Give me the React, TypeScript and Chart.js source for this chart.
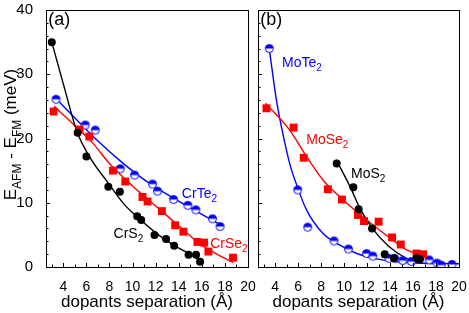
import React, { useEffect, useRef } from "react";
import { Chart, registerables } from "chart.js";

Chart.register(...registerables);

const FONT = '"Liberation Sans", Arial, Helvetica, sans-serif';
const BLUE = "#0000ff";
const RED = "#ff0000";
const BLACK = "#000000";

// axis ticks
const xTickLabels = [4, 6, 8, 10, 12, 14, 16, 18, 20];
const xMinorTicks = [3, 4, 5, 6, 7, 8, 9, 10, 11, 12, 13, 14, 15, 16, 17, 18, 19, 20];
const yTickLabels = [0, 10, 20, 30, 40];
const yMinorTicks = [0, 2, 4, 6, 8, 10, 12, 14, 16, 18, 20, 22, 24, 26, 28, 30, 32, 34, 36, 38, 40];

// panel (a)
const crs2X = [3.0, 5.24, 6.0, 7.9, 8.9, 10.4, 10.75, 11.9, 12.9, 13.6, 14.85, 15.5, 15.85];
const crs2Y = [35.0, 20.9, 17.2, 12.5, 11.7, 7.9, 7.3, 5.0, 4.35, 3.3, 1.9, 1.9, 0.8];
const crs2FitX = [3.0, 4.0, 5.2, 6.5, 7.8, 9.2, 10.7, 12.1, 13.55, 15.0, 16.0];
const crs2FitY = [35.0, 28.5, 21.0, 16.5, 13.3, 9.9, 7.3, 5.2, 3.4, 2.0, 0.8];

const crte2X = [3.37, 5.9, 6.77, 8.93, 10.17, 11.73, 12.16, 13.55, 14.79, 15.48, 16.92, 17.58];
const crte2Y = [26.1, 22.1, 21.3, 15.3, 14.3, 12.9, 11.8, 10.5, 9.6, 8.9, 7.5, 6.3];
const crte2FitX = [3.2, 5.0, 7.0, 9.0, 11.0, 13.0, 15.0, 17.6];
const crte2FitY = [26.5, 23.2, 19.6, 16.4, 13.6, 11.3, 9.2, 6.6];

const crse2X = [3.16, 5.41, 6.25, 8.3, 9.37, 10.86, 11.3, 12.54, 13.69, 14.4, 15.62, 16.2, 16.57, 18.7];
const crse2Y = [24.2, 21.4, 20.3, 15.0, 13.3, 10.9, 10.2, 8.7, 6.5, 5.5, 3.9, 3.8, 2.4, 1.45];
const crse2FitX = [3.2, 5.0, 6.5, 8.0, 10.0, 12.0, 14.0, 16.0, 17.5, 18.7];
const crse2FitY = [25.0, 22.0, 19.4, 16.1, 12.6, 9.5, 6.4, 3.4, 1.8, 0.7];

// panel (b)
const mote2X = [3.48, 5.96, 6.83, 9.12, 10.37, 11.95, 12.5, 13.9, 14.4, 15.1, 15.85, 17.4, 18.08, 18.45, 19.39];
const mote2Y = [34.0, 12.0, 6.2, 4.05, 2.8, 2.1, 1.7, 1.35, 1.35, 1.0, 0.85, 1.1, 0.6, 0.3, 0.4];
const mote2FitX = [3.48, 4.1, 4.6, 5.26, 5.98, 6.72, 8.17, 9.63, 11.1, 12.55, 15.46, 20.0];
const mote2FitY = [34.0, 26.0, 21.3, 16.1, 12.2, 8.9, 5.2, 3.4, 2.1, 1.35, 0.7, 0.5];

const mose2X = [3.24, 5.6, 6.48, 8.58, 9.81, 11.2, 11.73, 13.0, 14.17, 14.93, 16.3, 16.88];
const mose2Y = [24.7, 21.7, 17.0, 12.1, 10.5, 8.1, 7.15, 7.05, 4.6, 3.5, 2.1, 1.97];
const mose2FitX = [3.16, 5.26, 6.72, 8.17, 9.63, 11.1, 12.55, 14.0, 15.46, 16.9];
const mose2FitY = [25.5, 21.3, 17.2, 13.5, 10.9, 8.6, 6.5, 4.5, 2.65, 1.7];

const mos2X = [9.35, 10.8, 11.26, 12.43, 13.53, 14.34, 16.3, 16.6];
const mos2Y = [16.1, 12.4, 9.0, 6.0, 2.0, 1.35, 1.35, 1.2];
const mos2FitX = [9.3, 10.6, 11.3, 12.45, 13.9, 15.37, 16.6];
const mos2FitY = [16.7, 12.2, 9.4, 6.0, 3.2, 1.4, 0.6];

// text labels (data coordinates)
const labelsA = [
  { main: "(a)", sub: "", x: 2.7, y: 37.6, color: BLACK, size: 18 },
  { main: "CrTe", sub: "2", x: 14.27, y: 10.7, color: BLUE, size: 14 },
  { main: "CrS", sub: "2", x: 8.35, y: 4.5, color: BLACK, size: 14 },
  { main: "CrSe", sub: "2", x: 16.72, y: 2.95, color: RED, size: 14 },
];
const labelsB = [
  { main: "(b)", sub: "", x: 2.7, y: 37.6, color: BLACK, size: 18 },
  { main: "MoTe", sub: "2", x: 4.6, y: 31.1, color: BLUE, size: 14 },
  { main: "MoSe", sub: "2", x: 6.7, y: 19.2, color: RED, size: 14 },
  { main: "MoS", sub: "2", x: 10.6, y: 13.9, color: BLACK, size: 14 },
];

const xTitle = "dopants separation (Å)";
const yTitleParts: [string, boolean][] = [
  ["E", false],
  ["AFM", true],
  [" - E", false],
  ["FM", true],
  [" (meV)", false],
];

function zip(xs: number[], ys: number[]) {
  return xs.map((x, i) => ({ x, y: ys[i] }));
}

function halfCircle(color: string, r: number) {
  const c = document.createElement("canvas");
  const s = Math.ceil(r * 2 + 3);
  c.width = s;
  c.height = s;
  const g = c.getContext("2d")!;
  const cx = s / 2,
    cy = s / 2;
  g.beginPath();
  g.arc(cx, cy, r, 0, Math.PI * 2);
  g.fillStyle = "#fff";
  g.fill();
  g.beginPath();
  g.arc(cx, cy, r, Math.PI, Math.PI * 2);
  g.closePath();
  g.fillStyle = color;
  g.fill();
  g.beginPath();
  g.arc(cx, cy, r, 0, Math.PI * 2);
  g.strokeStyle = color;
  g.lineWidth = 1;
  g.stroke();
  return c;
}

function fit(data: any[], color: string) {
  return {
    data,
    showLine: true,
    borderColor: color,
    borderWidth: 1.4,
    pointRadius: 0,
    pointHoverRadius: 0,
    fill: false,
    cubicInterpolationMode: "monotone",
    order: 1,
  };
}

function marks(data: any[], color: string, style: any, radius: number) {
  return {
    data,
    showLine: false,
    pointStyle: style,
    pointRadius: radius,
    pointHoverRadius: radius,
    backgroundColor: color,
    borderColor: color,
    borderWidth: 0,
    order: 0,
  };
}

function drawRich(ctx: CanvasRenderingContext2D, parts: [string, boolean][], x: number, y: number, size: number, subSize: number) {
  let cx = x;
  for (const [t, sub] of parts) {
    ctx.font = `${sub ? subSize : size}px ${FONT}`;
    ctx.fillText(t, cx, sub ? y + size * 0.28 : y);
    cx += ctx.measureText(t).width;
  }
  return cx - x;
}

function measureRich(ctx: CanvasRenderingContext2D, parts: [string, boolean][], size: number, subSize: number) {
  let w = 0;
  for (const [t, sub] of parts) {
    ctx.font = `${sub ? subSize : size}px ${FONT}`;
    w += ctx.measureText(t).width;
  }
  return w;
}

function makePlugin(labels: typeof labelsA, withYTitle: boolean) {
  return {
    id: "decor",
    afterDatasetsDraw(chart: any) {
      const ctx: CanvasRenderingContext2D = chart.ctx;
      const { left, right, top, bottom } = chart.chartArea;
      const xs = chart.scales.x;
      const ys = chart.scales.y;
      ctx.save();
      ctx.strokeStyle = BLACK;
      ctx.lineWidth = 1;
      ctx.strokeRect(Math.round(left) + 0.5, Math.round(top) + 0.5, Math.round(right - left), Math.round(bottom - top));
      ctx.beginPath();
      for (const v of xMinorTicks) {
        const px = Math.round(xs.getPixelForValue(v)) + 0.5;
        const len = v % 2 === 0 ? 4 : 2.5;
        ctx.moveTo(px, bottom);
        ctx.lineTo(px, bottom - len);
      }
      for (const v of yMinorTicks) {
        const py = Math.round(ys.getPixelForValue(v)) + 0.5;
        const len = v % 10 === 0 ? 4 : 2.5;
        ctx.moveTo(left, py);
        ctx.lineTo(left + len, py);
      }
      ctx.stroke();

      ctx.textAlign = "left";
      ctx.textBaseline = "alphabetic";
      for (const l of labels) {
        const px = xs.getPixelForValue(l.x);
        const py = ys.getPixelForValue(l.y);
        ctx.fillStyle = l.color;
        const parts: [string, boolean][] = [[l.main, false]];
        if (l.sub) parts.push([l.sub, true]);
        drawRich(ctx, parts, px, py, l.size, 10);
      }

      if (withYTitle) {
        const size = 17;
        const sub = 12;
        const w = measureRich(ctx, yTitleParts, size, sub);
        const cy = (top + bottom) / 2 - 4;
        ctx.translate(16, cy);
        ctx.rotate(-Math.PI / 2);
        ctx.fillStyle = BLACK;
        drawRich(ctx, yTitleParts, -w / 2, 0, size, sub);
      }
      ctx.restore();
    },
  };
}

function makeConfig(datasets: any[], labels: typeof labelsA, isA: boolean) {
  return {
    type: "scatter" as const,
    data: { datasets },
    options: {
      responsive: false,
      animation: false as const,
      devicePixelRatio: 1,
      layout: { padding: { top: 10, left: 0, right: isA ? 17 : 10, bottom: 0 } },
      plugins: { legend: { display: false }, tooltip: { enabled: false } },
      scales: {
        x: {
          type: "linear" as const,
          min: 2.5,
          max: 20,
          afterBuildTicks: (s: any) => {
            s.ticks = xTickLabels.map((v) => ({ value: v }));
          },
          afterFit: (s: any) => {
            s.height = 46;
            s.paddingLeft = 0;
            s.paddingRight = 0;
          },
          grid: { display: false },
          border: { display: false },
          ticks: {
            color: BLACK,
            font: { family: FONT, size: 14 },
            padding: 4,
            maxRotation: 0,
            autoSkip: false,
          },
          title: {
            display: true,
            text: xTitle,
            color: BLACK,
            font: { family: FONT, size: 17 },
            padding: { top: 0, bottom: 0 },
          },
        },
        y: {
          type: "linear" as const,
          min: 0,
          max: 40,
          afterBuildTicks: (s: any) => {
            s.ticks = yTickLabels.map((v) => ({ value: v }));
          },
          afterFit: (s: any) => {
            s.width = isA ? 46 : 8;
            s.paddingTop = 0;
            s.paddingBottom = 0;
          },
          grid: { display: false },
          border: { display: false },
          ticks: {
            display: isA,
            color: BLACK,
            font: { family: FONT, size: 15 },
            padding: 5,
          },
        },
      },
    },
    plugins: [makePlugin(labels, isA)],
  };
}

export default function App() {
  const refA = useRef<HTMLCanvasElement>(null);
  const refB = useRef<HTMLCanvasElement>(null);

  useEffect(() => {
    const half = halfCircle(BLUE, 4);
    const dsA = [
      marks(zip(crs2X, crs2Y), BLACK, "circle", 4),
      marks(zip(crse2X, crse2Y), RED, "rect", 5.6),
      marks(zip(crte2X, crte2Y), BLUE, half, 4),
      fit(zip(crs2FitX, crs2FitY), BLACK),
      fit(zip(crse2FitX, crse2FitY), RED),
      fit(zip(crte2FitX, crte2FitY), BLUE),
    ];
    const dsB = [
      marks(zip(mos2X, mos2Y), BLACK, "circle", 4),
      marks(zip(mose2X, mose2Y), RED, "rect", 5.6),
      marks(zip(mote2X, mote2Y), BLUE, half, 4),
      fit(zip(mos2FitX, mos2FitY), BLACK),
      fit(zip(mose2FitX, mose2FitY), RED),
      fit(zip(mote2FitX, mote2FitY), BLUE),
    ];
    const a = new Chart(refA.current!, makeConfig(dsA, labelsA, true) as any);
    const b = new Chart(refB.current!, makeConfig(dsB, labelsB, false) as any);
    return () => {
      a.destroy();
      b.destroy();
    };
  }, []);

  return (
    <div style={{ position: "fixed", left: 0, top: 0, width: 469, height: 313, background: "#fff" }}>
      <canvas ref={refA} width={265} height={313} style={{ position: "absolute", left: 0, top: 0, width: 265, height: 313 }} />
      <canvas ref={refB} width={219} height={313} style={{ position: "absolute", left: 250, top: 0, width: 219, height: 313 }} />
    </div>
  );
}
